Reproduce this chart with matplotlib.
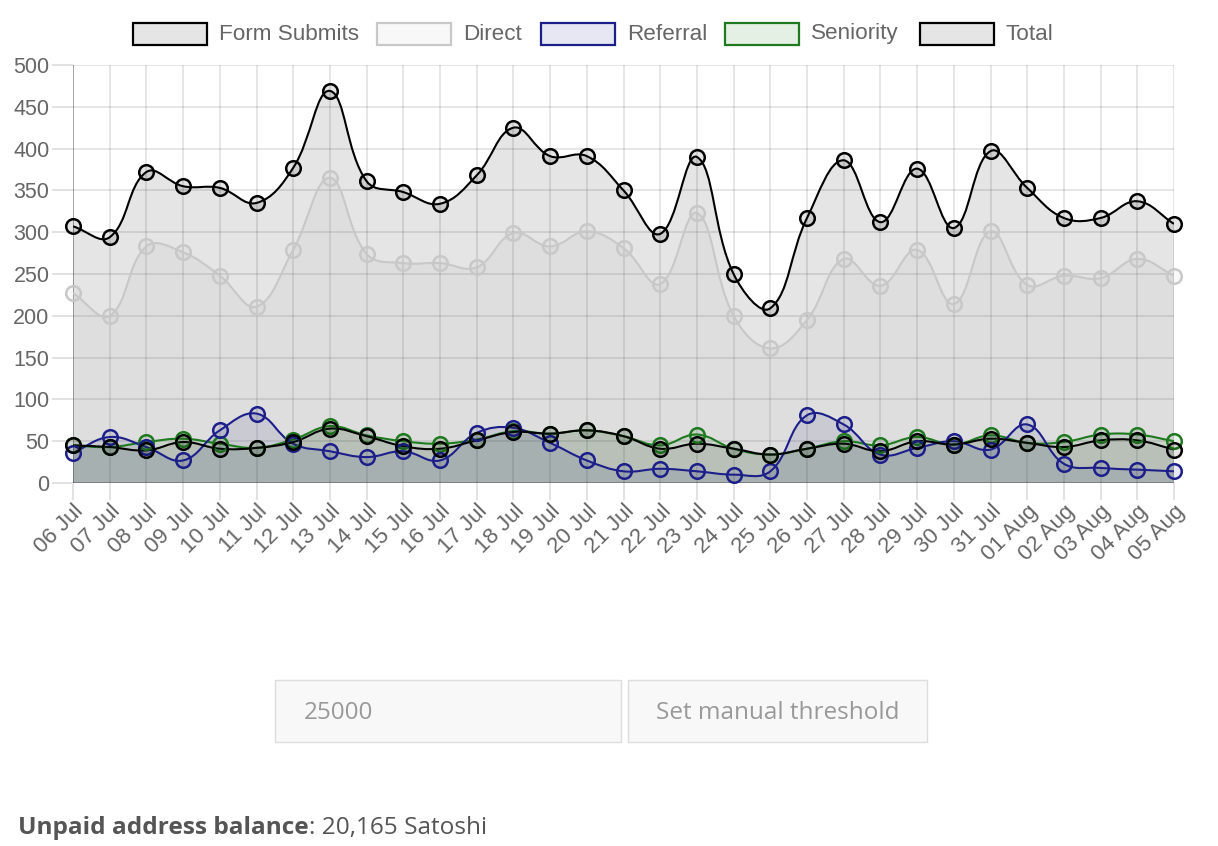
import numpy as np
import matplotlib
matplotlib.use("Agg")
import matplotlib.pyplot as plt
from matplotlib.path import Path
from matplotlib.patches import PathPatch, Rectangle

# ---------------- data ----------------
dates = ['06 Jul', '07 Jul', '08 Jul', '09 Jul', '10 Jul', '11 Jul', '12 Jul', '13 Jul',
         '14 Jul', '15 Jul', '16 Jul', '17 Jul', '18 Jul', '19 Jul', '20 Jul', '21 Jul',
         '22 Jul', '23 Jul', '24 Jul', '25 Jul', '26 Jul', '27 Jul', '28 Jul', '29 Jul',
         '30 Jul', '31 Jul', '01 Aug', '02 Aug', '03 Aug', '04 Aug', '05 Aug']
form_submits = [45, 43, 39, 49, 41, 42, 49, 65, 56, 44, 41, 51, 61, 59, 63, 56,
                41, 47, 41, 34, 41, 47, 38, 50, 46, 53, 48, 43, 51, 51, 40]
direct = [227, 200, 283, 276, 248, 211, 279, 365, 274, 263, 263, 258, 299, 283, 301, 281,
          238, 323, 200, 161, 195, 268, 236, 279, 214, 301, 237, 248, 245, 268, 248]
referral = [36, 55, 43, 27, 63, 83, 47, 38, 31, 38, 27, 60, 66, 48, 27, 14,
            17, 14, 10, 14, 81, 70, 34, 42, 50, 40, 70, 23, 18, 16, 14]
seniority = [45, 43, 49, 53, 47, 42, 52, 68, 57, 50, 47, 52, 62, 59, 63, 56,
             45, 58, 41, 34, 41, 50, 45, 55, 46, 57, 48, 49, 58, 58, 50]
total = [307, 294, 372, 355, 353, 335, 377, 469, 361, 348, 334, 368, 425, 391, 391, 350,
         298, 390, 250, 209, 317, 386, 312, 376, 305, 397, 353, 317, 317, 337, 310]
series_names = ['Form Submits', 'Direct', 'Referral', 'Seniority', 'Total']
series_values = [form_submits, direct, referral, seniority, total]
y_ticks = [0, 50, 100, 150, 200, 250, 300, 350, 400, 450, 500]

# ---------------- styles ----------------
line_colors = ['#000000', '#c8c8c8', '#1c1f8a', '#1f7a1f', '#000000']
fill_colors = [(0, 0, 0, 0.10), (0.78, 0.78, 0.78, 0.12), (0.11, 0.12, 0.54, 0.10),
               (0.12, 0.48, 0.12, 0.10), (0, 0, 0, 0.10)]
legend_face = ['#e5e5e5', '#f8f8f8', '#e6e7f3', '#e4f0e4', '#e5e5e5']
legend_edge = ['#000000', '#c8c8c8', '#1c1f8a', '#1f7a1f', '#000000']

W, H = 1218, 846
fig = plt.figure(figsize=(W / 100, H / 100), dpi=100)
fig.patch.set_facecolor('white')
ax = fig.add_axes([73 / W, 1 - 483 / H, (1174 - 73) / W, (483 - 65) / H])
x = np.arange(len(dates))
ax.set_xlim(0, len(dates) - 1)
ax.set_ylim(0, 500)
ax.set_facecolor('none')

for s in ax.spines.values():
    s.set_visible(False)
ax.set_yticks(y_ticks)
ax.set_yticklabels([str(v) for v in y_ticks])
ax.set_xticks(x)
ax.set_xticklabels(dates, rotation=45, ha='right', rotation_mode='anchor')
ax.set_axisbelow(True)
ax.tick_params(axis='both', color='#e2e2e2', length=15, width=1.4, labelcolor='#666666',
               labelsize=15.5, pad=2, grid_color='black', grid_alpha=0.1, grid_linewidth=1.4)
ax.tick_params(axis='x', pad=1, labelsize=16, length=12)
ax.grid(True)
for lab in ax.get_xticklabels() + ax.get_yticklabels():
    lab.set_fontfamily('Liberation Sans')
ax.axvline(0, color=(0, 0, 0, 0.28), lw=1.4, zorder=1)
ax.axhline(0, color=(0, 0, 0, 0.25), lw=1.4, zorder=1)


def spline_vertices(xs, ys, tension=0.4):
    pts = ax.transData.transform(np.column_stack([xs, ys]).astype(float))
    n = len(pts)
    cp_prev = np.zeros_like(pts)
    cp_next = np.zeros_like(pts)
    y_top = ax.transData.transform((0, 500))[1]
    y_bot = ax.transData.transform((0, 0))[1]
    for i in range(n):
        p0 = pts[max(i - 1, 0)]
        p1 = pts[i]
        p2 = pts[min(i + 1, n - 1)]
        d01 = np.hypot(*(p1 - p0))
        d12 = np.hypot(*(p2 - p1))
        tot = d01 + d12
        s01 = d01 / tot if tot else 0
        s12 = d12 / tot if tot else 0
        fa = tension * s01
        fb = tension * s12
        cp_prev[i] = p1 - fa * (p2 - p0)
        cp_next[i] = p1 + fb * (p2 - p0)
    lo, hi = min(y_top, y_bot), max(y_top, y_bot)
    cp_prev[:, 1] = np.clip(cp_prev[:, 1], lo, hi)
    cp_next[:, 1] = np.clip(cp_next[:, 1], lo, hi)
    verts = [pts[0]]
    codes = [Path.MOVETO]
    for i in range(n - 1):
        verts += [cp_next[i], cp_prev[i + 1], pts[i + 1]]
        codes += [Path.CURVE4] * 3
    verts = ax.transData.inverted().transform(np.array(verts))
    return verts, codes


# Chart.js draws the first dataset on top
for k in reversed(range(len(series_values))):
    vals = series_values[k]
    verts, codes = spline_vertices(x, vals)
    fverts = np.vstack([verts, [[x[-1], 0], [x[0], 0], verts[0]]])
    fcodes = codes + [Path.LINETO, Path.LINETO, Path.CLOSEPOLY]
    ax.add_patch(PathPatch(Path(fverts, fcodes), facecolor=fill_colors[k],
                           edgecolor='none', zorder=2 + k * 0.01))
    ax.add_patch(PathPatch(Path(verts, codes), facecolor='none',
                           edgecolor=line_colors[k], lw=1.5,
                           zorder=10 + (len(series_values) - k)))
    ax.scatter(x, vals, s=110, facecolors=[fill_colors[k]], edgecolors=line_colors[k],
               linewidths=1.8, zorder=20 + (len(series_values) - k), clip_on=False)

# ---------------- legend (manual, chart.js style) ----------------
box_x = [133, 377, 541, 725, 920]
for k, name in enumerate(series_names):
    bx = box_x[k]
    fig.patches.append(Rectangle((bx / W, 1 - 45 / H), 74 / W, 22 / H,
                                 transform=fig.transFigure, facecolor=legend_face[k],
                                 edgecolor=legend_edge[k], lw=1.6))
    fig.text((bx + 86) / W, 1 - 34 / H, name, fontsize=16.2, color='#666666',
             family='Liberation Sans', va='center', ha='left')

# ---------------- form widgets ----------------
fig.patches.append(Rectangle((275 / W, 1 - 742 / H), 346 / W, 62 / H, transform=fig.transFigure,
                             facecolor='#f8f8f8', edgecolor='#dddddd', lw=1))
fig.patches.append(Rectangle((628 / W, 1 - 742 / H), 299 / W, 62 / H, transform=fig.transFigure,
                             facecolor='#f8f8f8', edgecolor='#dddddd', lw=1))
fig.text(304 / W, 1 - 713 / H, '25000', fontsize=17.5, color='#999999', family='Open Sans',
         va='center', ha='left')
fig.text(777.5 / W, 1 - 713 / H, 'Set manual threshold', fontsize=17.5, color='#999999',
         family='Open Sans', va='center', ha='center')

t1 = fig.text(18 / W, 1 - 828 / H, 'Unpaid address balance', fontsize=17.6, color='#555555',
              family='Open Sans', weight='bold', va='center', ha='left')
fig.canvas.draw()
bb = t1.get_window_extent(renderer=fig.canvas.get_renderer())
fig.text(bb.x1 / W, 1 - 828 / H, ': 20,165 Satoshi', fontsize=17.6, color='#555555',
         family='Open Sans', va='center', ha='left')

fig.savefig('out.png', dpi=100, facecolor='white')
